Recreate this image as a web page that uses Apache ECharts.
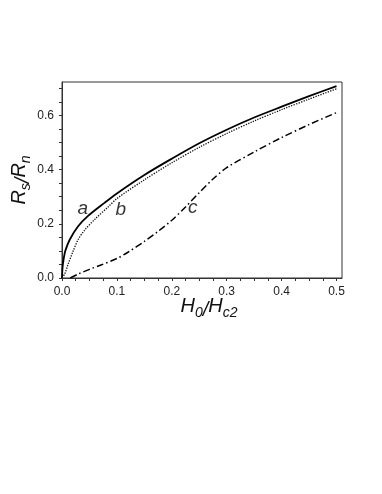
<!DOCTYPE html>
<html>
<head>
<meta charset="utf-8">
<script src="https://cdn.jsdelivr.net/npm/echarts@6/dist/echarts.min.js"></script>
<style>
  html, body { margin: 0; padding: 0; background: #fff; }
  #container { width: 382px; height: 494px; }
</style>
</head>
<body>
<div id="container"></div>
<script>
var dom = document.getElementById("container");
var myChart = echarts.init(dom);

// curve a (solid)
var curveA = [
  [0, 0], [0.001, 0.04], [0.003, 0.07], [0.006, 0.1], [0.014, 0.141],
  [0.029, 0.19], [0.047, 0.228], [0.078, 0.278], [0.1, 0.312], [0.15, 0.38],
  [0.2, 0.44], [0.25, 0.497], [0.3, 0.547], [0.35, 0.592], [0.4, 0.632],
  [0.45, 0.671], [0.5, 0.708]
];
// curve b (dotted)
var curveB = [
  [0, 0], [0.005, 0.015], [0.011, 0.05], [0.02, 0.098], [0.029, 0.14],
  [0.041, 0.176], [0.06, 0.217], [0.084, 0.262], [0.1, 0.293], [0.15, 0.362],
  [0.2, 0.425], [0.25, 0.482], [0.3, 0.533], [0.35, 0.579], [0.4, 0.621],
  [0.45, 0.66], [0.5, 0.698]
];
// curve c (dash-dot)
var curveC = [
  [0.015, 0], [0.03, 0.015], [0.05, 0.032], [0.07, 0.047], [0.1, 0.072],
  [0.12, 0.095], [0.15, 0.135], [0.175, 0.172], [0.2, 0.213], [0.225, 0.262],
  [0.25, 0.315], [0.275, 0.365], [0.3, 0.407], [0.35, 0.465], [0.4, 0.518],
  [0.45, 0.566], [0.5, 0.61]
];
// curve letters placed in data coordinates
var curveNames = ["a", "b", "c"];
var curveLabelPos = [[0.038, 0.256], [0.107, 0.252], [0.238, 0.26]];

function onStep(v, step) {
  var r = v / step;
  return Math.abs(r - Math.round(r)) < 1e-6;
}

var fontFam = "Liberation Sans, Arial, sans-serif";
var richName = {
  m: { fontSize: 20, fontStyle: "italic", fontFamily: fontFam, color: "#111", lineHeight: 20, verticalAlign: "top" },
  s: { fontSize: 14, fontStyle: "italic", fontFamily: fontFam, color: "#111", lineHeight: 12, verticalAlign: "bottom" },
  f: { fontSize: 20, fontStyle: "italic", fontFamily: fontFam, color: "#111", lineHeight: 24, verticalAlign: "bottom" }
};

var labelSeries = {
  type: "scatter",
  symbolSize: 0,
  silent: true,
  data: curveLabelPos.map(function (p, i) {
    return { value: p, name: curveNames[i] };
  }),
  label: {
    show: true,
    position: "inside",
    formatter: function (p) { return p.name; },
    fontSize: 19,
    fontStyle: "italic",
    fontFamily: fontFam,
    color: "#000"
  }
};

var option = {
  backgroundColor: "#fff",
  animation: false,
  grid: {
    left: 62,
    right: 40,
    top: 82,
    bottom: 216,
    outerBoundsMode: "none",
    containLabel: false,
    show: true,
    borderColor: "#333",
    borderWidth: 1
  },
  xAxis: {
    type: "value",
    min: 0,
    max: 0.51,
    interval: 0.025,
    splitLine: { show: false },
    axisLine: { onZero: false, lineStyle: { color: "#333", width: 1 } },
    axisTick: { length: 3, lineStyle: { color: "#333" } },
    axisLabel: {
      margin: 8,
      fontSize: 12,
      fontFamily: fontFam,
      color: "#222",
      showMaxLabel: false,
      formatter: function (v) { return onStep(v, 0.1) ? v.toFixed(1) : ""; }
    },
    name: "{m|H}{s|0}{f|/}{m|H}{s|c2}",
    nameLocation: "middle",
    nameMoveOverlap: false,
    nameGap: 18,
    nameTextStyle: { rich: richName, padding: [0, 0, 0, 14] }
  },
  yAxis: {
    type: "value",
    min: 0,
    max: 0.723,
    interval: 0.05,
    splitLine: { show: false },
    axisLine: { onZero: false, lineStyle: { color: "#333", width: 1 } },
    axisTick: { length: 3, lineStyle: { color: "#333" } },
    axisLabel: {
      margin: 8,
      fontSize: 12,
      fontFamily: fontFam,
      color: "#222",
      showMaxLabel: false,
      formatter: function (v) { return onStep(v, 0.2) ? v.toFixed(1) : ""; }
    },
    name: "{m|R}{s|s}{f|/}{m|R}{s|n}",
    nameLocation: "middle",
    nameMoveOverlap: false,
    nameGap: 29,
    nameTextStyle: { rich: richName }
  },
  series: [
    {
      name: "a",
      type: "line",
      data: curveA,
      showSymbol: false,
      smooth: 0.3,
      lineStyle: { color: "#000", width: 1.8, type: "solid" }
    },
    {
      name: "b",
      type: "line",
      data: curveB,
      showSymbol: false,
      smooth: 0.3,
      lineStyle: { color: "#111", width: 1.3, type: [1.3, 1.3] }
    },
    {
      name: "c",
      type: "line",
      data: curveC,
      showSymbol: false,
      smooth: 0.3,
      lineStyle: { color: "#000", width: 1.5, type: [7, 3, 1.5, 3] }
    },
    labelSeries
  ]
};

myChart.setOption(option);
</script>
</body>
</html>
